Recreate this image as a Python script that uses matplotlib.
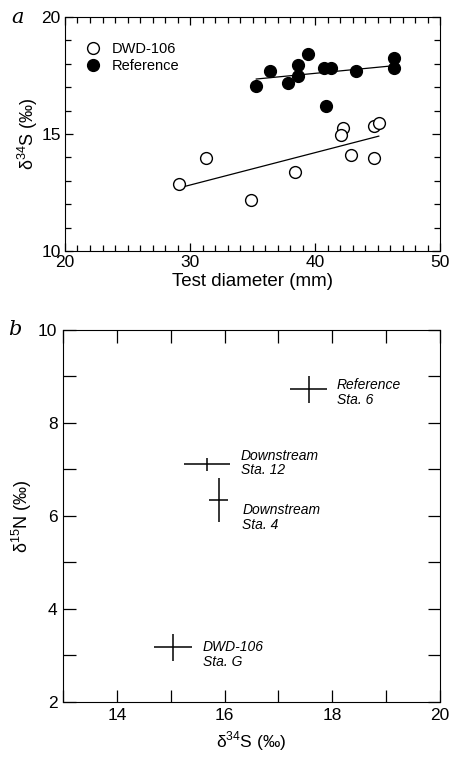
import matplotlib.pyplot as plt
from matplotlib.ticker import MultipleLocator

plt.rcParams['font.family'] = ['Liberation Sans', 'DejaVu Sans']
plt.rcParams['mathtext.fontset'] = 'custom'
plt.rcParams['mathtext.rm'] = 'Liberation Sans'

# panel a: test diameter vs d34S
dwd_diam = [29.1, 31.3, 34.9, 38.4, 42.2, 42.05, 42.9, 44.7, 45.1, 44.75]
dwd_s34 = [12.86, 13.97, 12.18, 13.39, 15.24, 14.96, 14.10, 15.36, 15.49, 13.97]
ref_diam = [35.3, 36.4, 37.8, 38.6, 38.65, 39.4, 40.7, 41.3, 40.9, 43.3, 46.3, 46.3]
ref_s34 = [17.07, 17.71, 17.2, 17.48, 17.93, 18.40, 17.81, 17.81, 16.20, 17.68, 18.26, 17.81]
dwd_fit_x = [29.5, 45.1]
dwd_fit_y = [12.75, 14.91]
ref_fit_x = [35.3, 46.3]
ref_fit_y = [17.35, 17.92]

# panel b: station means with error bars
stn_s34 = [17.56, 15.68, 15.89, 15.04]
stn_n15 = [8.72, 7.11, 6.34, 3.18]
stn_s34_err = [0.35, 0.43, 0.18, 0.35]
stn_n15_err = [0.28, 0.14, 0.48, 0.29]
stn_labels = ['Reference\nSta. 6', 'Downstream\nSta. 12', 'Downstream\nSta. 4', 'DWD-106\nSta. G']
lbl_dx = [0.52, 0.62, 0.44, 0.56]
lbl_dy = [-0.07, 0.03, -0.37, -0.16]

fig = plt.figure(figsize=(4.52, 7.57), dpi=100)

ax1 = fig.add_axes([0.1438, 0.6684, 0.8297, 0.3091])
ax1.plot(dwd_fit_x, dwd_fit_y, color='black', lw=0.9)
ax1.plot(ref_fit_x, ref_fit_y, color='black', lw=0.9)
ax1.plot(dwd_diam, dwd_s34, 'o', mfc='white', mec='black', mew=1.0, ms=8.5, label='DWD-106')
ax1.plot(ref_diam, ref_s34, 'o', mfc='black', mec='black', ms=8.5, label='Reference')
ax1.set_xlim(20, 50)
ax1.set_ylim(10, 20)
ax1.set_xticks([20, 30, 40, 50])
ax1.set_yticks([10, 15, 20])
ax1.xaxis.set_minor_locator(MultipleLocator(1))
ax1.yaxis.set_minor_locator(MultipleLocator(1))
ax1.tick_params(which='both', direction='in', top=True, right=True, labelsize=12.5)
ax1.tick_params(which='major', length=6, width=0.9, pad=3)
ax1.tick_params(which='minor', length=4, width=0.9)
ax1.set_xlabel('Test diameter (mm)', fontsize=13.5, labelpad=2)
ax1.set_ylabel('δ$^{34}$S (‰)', fontsize=13, labelpad=1)
ax1.legend(loc='upper left', frameon=False, fontsize=10.5, handletextpad=0.3,
           borderaxespad=0.5, labelspacing=0.2, bbox_to_anchor=(0.0, 0.95))
ax1.text(-0.11, 1.0, 'a', transform=ax1.transAxes, fontsize=15, style='italic',
         family='DejaVu Serif', va='center', ha='right')

ax2 = fig.add_axes([0.1394, 0.0727, 0.834, 0.4914])
ax2.errorbar(stn_s34, stn_n15, xerr=stn_s34_err, yerr=stn_n15_err, fmt='none',
             ecolor='black', elinewidth=1.1, capsize=0)
for x, y, t, dx, dy in zip(stn_s34, stn_n15, stn_labels, lbl_dx, lbl_dy):
    ax2.text(x + dx, y + dy, t, fontsize=10, style='italic', va='center',
             ha='left', linespacing=1.05)
ax2.set_xlim(13, 20)
ax2.set_ylim(2, 10)
ax2.set_xticks([14, 16, 18, 20])
ax2.set_yticks([2, 4, 6, 8, 10])
ax2.xaxis.set_minor_locator(MultipleLocator(1))
ax2.yaxis.set_minor_locator(MultipleLocator(1))
ax2.tick_params(which='both', direction='in', top=True, right=True, labelsize=12.5,
                length=9, width=0.9, pad=4)
ax2.set_xlabel('δ$^{34}$S (‰)', fontsize=12.5, labelpad=5)
ax2.set_ylabel('δ$^{15}$N (‰)', fontsize=13, labelpad=3)
ax2.text(-0.11, 1.0, 'b', transform=ax2.transAxes, fontsize=15, style='italic',
         family='DejaVu Serif', va='center', ha='right')

fig.savefig('out.png', dpi=100)
